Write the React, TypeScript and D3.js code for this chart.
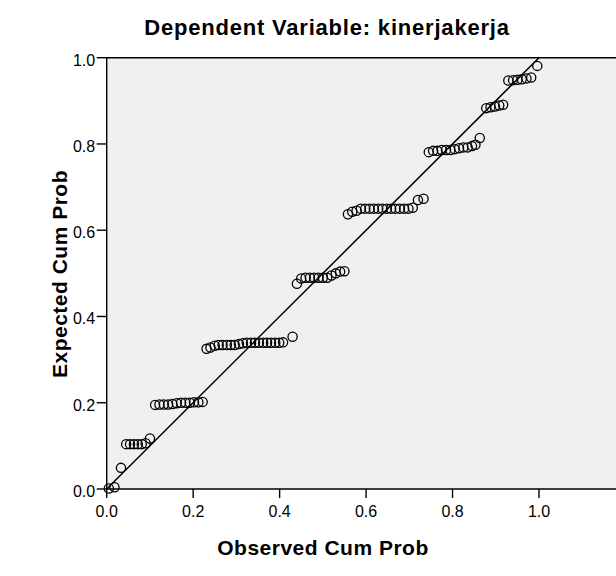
import React from "react";
import * as d3 from "d3";

// observed cum prob / expected cum prob
const observed = [
  0.005, 0.018, 0.033,
  0.045, 0.054, 0.063, 0.072, 0.081, 0.09, 0.1,
  0.112, 0.122, 0.132, 0.142, 0.152, 0.162, 0.172, 0.182, 0.192, 0.202, 0.212, 0.222,
  0.231, 0.24, 0.25, 0.259, 0.268, 0.278, 0.287, 0.296, 0.306, 0.315, 0.324, 0.334, 0.343, 0.352, 0.362, 0.371, 0.38, 0.39, 0.399, 0.408, 0.43,
  0.44, 0.45, 0.46, 0.47, 0.48, 0.49, 0.5, 0.51, 0.52, 0.53, 0.54, 0.55,
  0.558, 0.568, 0.578, 0.588, 0.598, 0.608, 0.618, 0.628, 0.638, 0.648, 0.658, 0.668, 0.678, 0.688, 0.698, 0.708, 0.72, 0.733,
  0.745, 0.755, 0.765, 0.775, 0.785, 0.795, 0.805, 0.815, 0.825, 0.835, 0.845, 0.853, 0.863,
  0.878, 0.888, 0.898, 0.908, 0.917,
  0.929, 0.94, 0.95, 0.96, 0.971, 0.982,
  0.996,
];
const expected = [
  0.001, 0.004, 0.049,
  0.104, 0.104, 0.104, 0.104, 0.104, 0.106, 0.117,
  0.195, 0.196, 0.196, 0.196, 0.197, 0.199, 0.2, 0.2, 0.2, 0.201, 0.201, 0.202,
  0.325, 0.328, 0.332, 0.334, 0.334, 0.334, 0.334, 0.334, 0.336, 0.338, 0.339, 0.339, 0.339, 0.339, 0.339, 0.339, 0.339, 0.339, 0.339, 0.34, 0.353,
  0.476, 0.488, 0.49, 0.49, 0.49, 0.49, 0.49, 0.49, 0.495, 0.5, 0.504, 0.505,
  0.637, 0.643, 0.645, 0.65, 0.65, 0.65, 0.65, 0.65, 0.65, 0.65, 0.65, 0.65, 0.65, 0.65, 0.65, 0.652, 0.67, 0.673,
  0.781, 0.784, 0.784, 0.786, 0.786, 0.786, 0.788, 0.79, 0.792, 0.792, 0.795, 0.798, 0.814,
  0.883, 0.885, 0.887, 0.889, 0.891,
  0.947, 0.948, 0.949, 0.95, 0.952, 0.954,
  0.981,
];
const ticks = [0, 0.2, 0.4, 0.6, 0.8, 1.0];

const title = "Dependent Variable: kinerjakerja";
const xTitle = "Observed Cum Prob";
const yTitle = "Expected Cum Prob";

const W = 616;
const H = 576;
const left = 106.7;
const top = 57.7;
const bottom = 489;

export default function App() {
  const x = d3.scaleLinear().domain([0, 1]).range([left, 539]);
  const y = d3.scaleLinear().domain([0, 1]).range([bottom, top]);
  const font = "'Liberation Sans', Arial, sans-serif";
  const pts = observed.map((o, i) => [o, expected[i]]);
  const fmt = d3.format(".1f");

  return (
    <svg width={W} height={H} style={{position: "absolute", left: 0, top: 0}} fontFamily={font}>
      <rect x={0} y={0} width={W} height={H} fill="#fff"/>
      <text x={327} y={35} textAnchor="middle" fontSize={22} fontWeight="bold" letterSpacing={0.8}>{title}</text>
      <rect x={left} y={top} width={W - left + 5} height={bottom - top} fill="#f0f0f0"/>
      <path d={`M${W + 5},${top}H${left}V${bottom}H${W + 5}`} fill="none" stroke="#000" strokeWidth={1.4}/>
      {ticks.map(t => (
        <g key={"y" + t}>
          <line x1={left - 10} x2={left} y1={y(t)} y2={y(t)} stroke="#000" strokeWidth={1.4}/>
          <text x={left - 11.5} y={y(t) + 8} textAnchor="end" fontSize={16}>{fmt(t)}</text>
        </g>
      ))}
      {ticks.map(t => (
        <g key={"x" + t}>
          <line x1={x(t)} x2={x(t)} y1={bottom} y2={bottom + 9} stroke="#000" strokeWidth={1.4}/>
          <text x={x(t)} y={517} textAnchor="middle" fontSize={16}>{fmt(t)}</text>
        </g>
      ))}
      <line x1={x(0)} y1={y(0)} x2={x(1)} y2={y(1)} stroke="#000" strokeWidth={1.5}/>
      {pts.map((p, i) => (
        <circle key={i} cx={x(p[0])} cy={y(p[1])} r={4.6} fill="none" stroke="#000" strokeWidth={1.3}/>
      ))}
      <text x={323} y={555} textAnchor="middle" fontSize={21} fontWeight="bold" letterSpacing={0.5}>{xTitle}</text>
      <text transform={`translate(67,274) rotate(-90)`} textAnchor="middle" fontSize={21} fontWeight="bold" letterSpacing={0.5}>{yTitle}</text>
    </svg>
  );
}
